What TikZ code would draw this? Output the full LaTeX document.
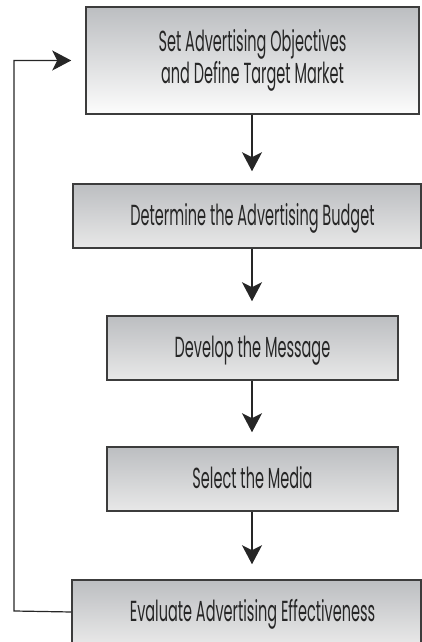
\documentclass[tikz,border=0pt]{standalone}
\usepackage{fontspec}
\setmainfont{Poppins}[FakeStretch=0.5]
\usetikzlibrary{arrows.meta,calc}
\definecolor{bordergray}{HTML}{3C3C3C}
\definecolor{topgray}{HTML}{BCBEC1}
\tikzset{
  stepbox/.style={draw=bordergray, line width=1.5pt, rectangle, inner sep=0pt,
    top color=topgray, minimum height=64pt, align=center,
    font=\fontsize{29}{32}\selectfont, text=black!85},
  onerow/.style={text height=19pt, text depth=0pt},
  boxlight/.style={bottom color=black!9},
  boxwhite/.style={bottom color=black!1},
  arr/.style={draw=black!85, line width=1.2pt, -{Stealth[length=19pt,width=20pt,inset=5pt]}},
}
\begin{document}
\begin{tikzpicture}[x=1pt,y=1pt]
\useasboundingbox (0,0) rectangle (422,642);
\node[stepbox, boxwhite, minimum width=333pt, minimum height=107pt] (b1) at (252.5,581.5)
  {Set Advertising Objectives\\and Define Target Market};
\node[stepbox, onerow, boxlight, minimum width=348pt] (b2) at (247,426) {\hspace*{11pt}Determine the Advertising Budget};
\node[stepbox, onerow, boxlight, minimum width=291pt] (b3) at (252.5,294) {Develop the Message};
\node[stepbox, onerow, boxlight, minimum width=291pt] (b4) at (252.5,163) {Select the Media};
\node[stepbox, onerow, boxlight, minimum width=349pt] (b5) at (246.5,30) {\hspace*{12pt}Evaluate Advertising Effectiveness};
\coordinate (loop) at (14,31);
\draw[arr, shorten >=12pt] (b1.south -| 252,0) -- (b2.north -| 252,0);
\draw[arr, shorten >=14pt] (b2.south -| 252,0) -- (b3.north -| 252,0);
\draw[arr, shorten >=14pt] (b3.south -| 252,0) -- (b4.north -| 252,0);
\draw[arr, shorten >=15pt] (b4.south -| 252,0) -- (b5.north -| 252,0);
\draw[arr, shorten >=14pt] (b5.west) -- (loop) |- (b1.west);
\end{tikzpicture}
\end{document}
